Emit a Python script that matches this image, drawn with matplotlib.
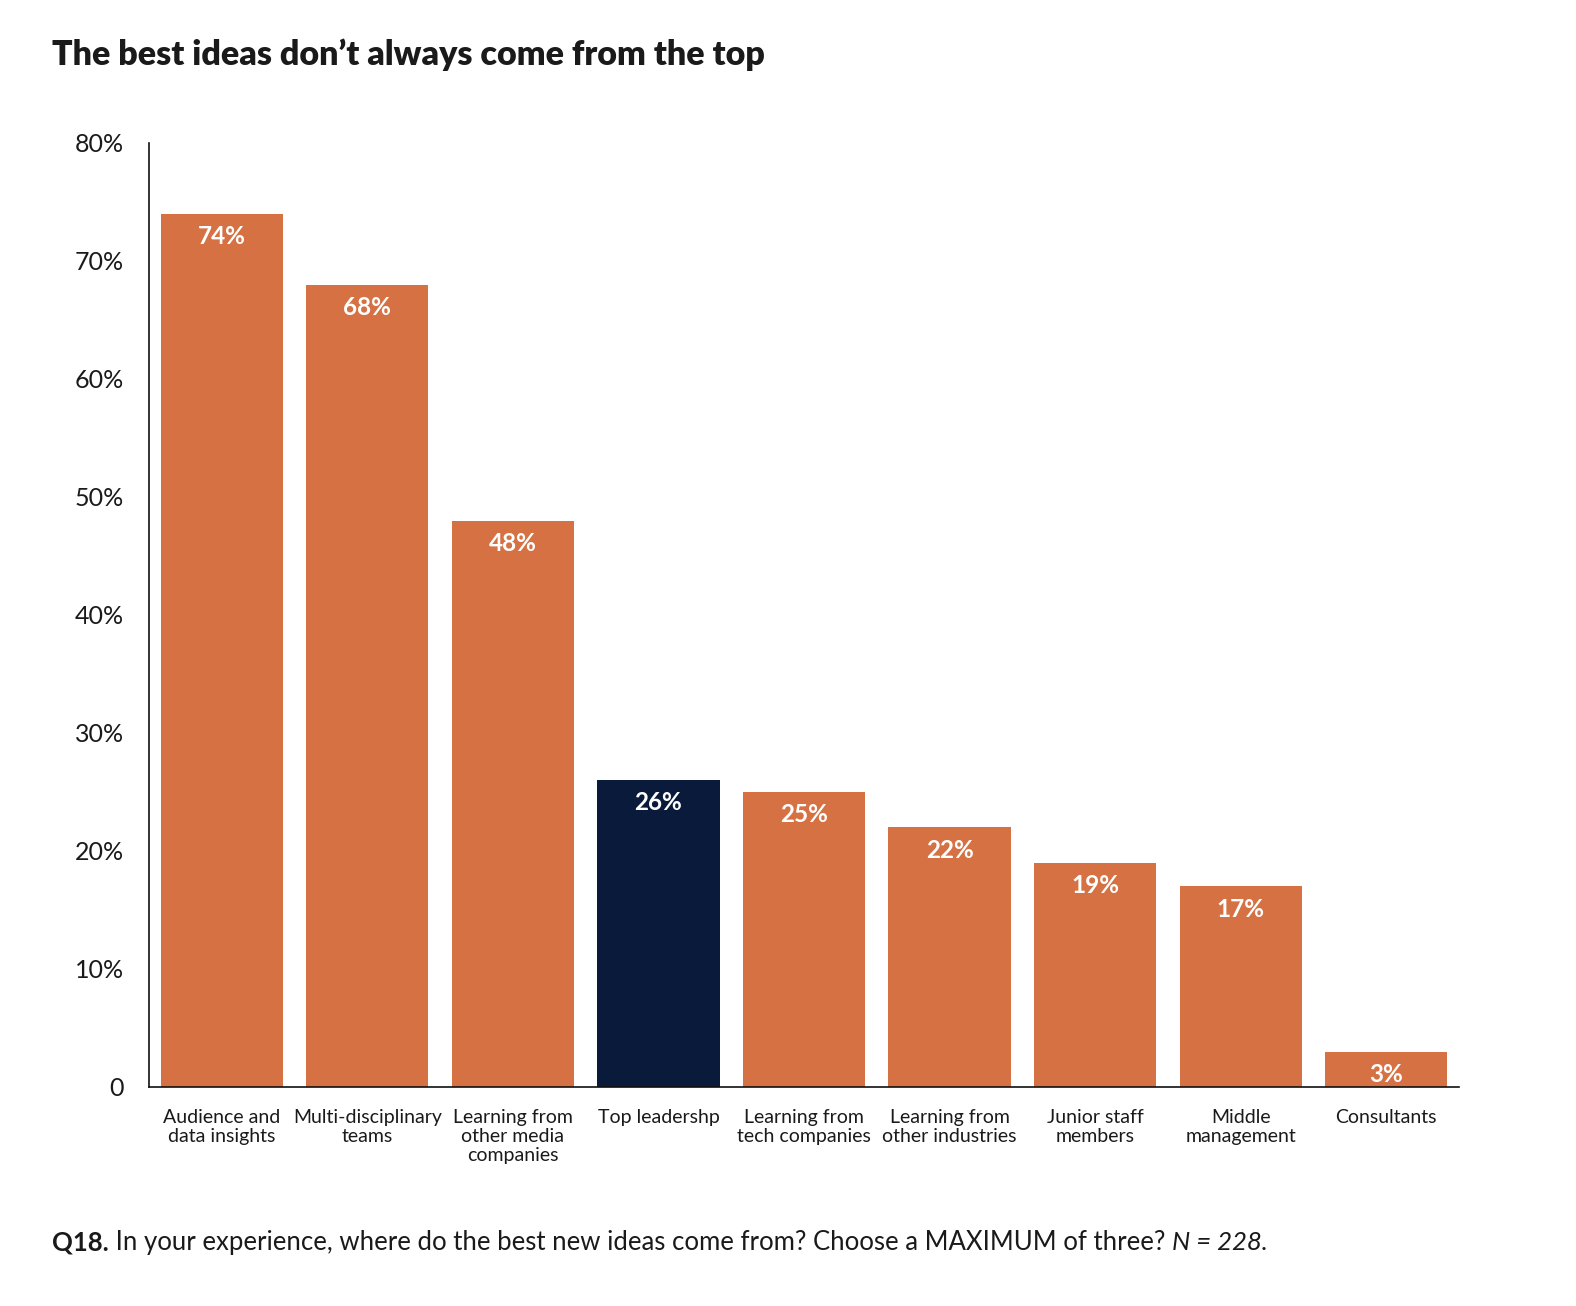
import matplotlib
matplotlib.use("Agg")
import matplotlib.pyplot as plt

categories = ["Audience and\ndata insights", "Multi-disciplinary\nteams",
              "Learning from\nother media\ncompanies", "Top leadershp",
              "Learning from\ntech companies", "Learning from\nother industries",
              "Junior staff\nmembers", "Middle\nmanagement", "Consultants"]
values = [74, 68, 48, 26, 25, 22, 19, 17, 3]
highlight = ["Top leadershp"]
yticks = [0, 10, 20, 30, 40, 50, 60, 70, 80]
ytick_labels = ["0", "10%", "20%", "30%", "40%", "50%", "60%", "70%", "80%"]

ORANGE = "#D57142"
NAVY = "#0A1A3A"

plt.rcParams['font.family'] = ['Lato', 'DejaVu Sans']

fig = plt.figure(figsize=(15.76, 13.06), dpi=100)
ax = fig.add_axes([149/1576, 1 - 1087/1306, 1310/1576, (1087-143)/1306])

x = list(range(len(categories)))
colors = [NAVY if c in highlight else ORANGE for c in categories]
bars = ax.bar(x, values, width=0.84, color=colors, zorder=2)

for xi, v in zip(x, values):
    ax.annotate(f"{v}%", xy=(xi, v), xytext=(0, -8), textcoords="offset points",
                ha="center", va="top", color="white", fontsize=17.5, fontweight="bold")

ax.set_xlim(-0.5, 8.5)
ax.set_ylim(0, 80)
ax.set_yticks(yticks)
ax.set_yticklabels(ytick_labels, fontsize=18, color="#1a1a1a")
ax.set_xticks(x)
ax.set_xticklabels(categories, fontsize=14, color="#1a1a1a", linespacing=1.15)
ax.tick_params(axis="y", length=0, pad=18)
ax.tick_params(axis="x", length=0, pad=16)
for s in ["top", "right"]:
    ax.spines[s].set_visible(False)
for s in ["left", "bottom"]:
    ax.spines[s].set_linewidth(1.2)
    ax.spines[s].set_color("#111111")

fig.text(52/1576, 1 - 55/1306, "The best ideas don\u2019t always come from the top",
         fontsize=24.5, fontweight="heavy", ha="left", va="center", color="#1a1a1a")

t1 = fig.text(52/1576, 1 - 1250/1306, "Q18.", fontsize=18.5, fontweight="bold",
              ha="left", va="baseline", color="#1a1a1a")
t2 = fig.text(0, 0, " In your experience, where do the best new ideas come from? Choose a MAXIMUM of three? ",
              fontsize=18.5, color="#1a1a1a", ha="left", va="baseline")
fig.canvas.draw()
r = fig.canvas.get_renderer()
bb1 = t1.get_window_extent(r)
t2.set_position((bb1.x1 / fig.bbox.width, t1.get_position()[1]))
fig.canvas.draw()
bb2 = t2.get_window_extent(r)
t3 = fig.text(bb2.x1 / fig.bbox.width, t1.get_position()[1], "N = 228.", fontsize=18.5,
              style="italic", color="#1a1a1a", ha="left", va="baseline")

fig.savefig("out.png", dpi=100, facecolor="white")
